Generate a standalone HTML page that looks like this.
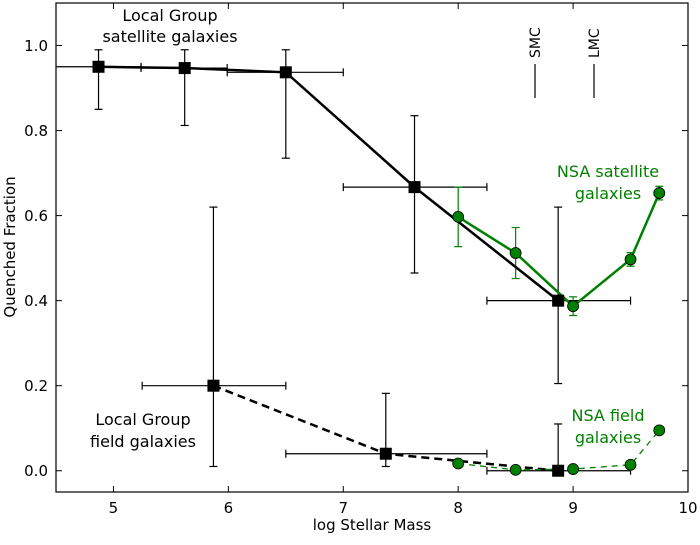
<!DOCTYPE html>
<html><head><meta charset="utf-8"><style>
body{margin:0;background:#fff}
svg text{font-family:"DejaVu Sans","Liberation Sans",sans-serif}
</style></head><body>
<svg id="c" width="700" height="540"></svg>
<script>
const lgSatX=[4.87,5.62,6.5,7.62,8.87];
const lgSatY=[0.95,0.947,0.937,0.667,0.40];
const lgSatLo=[0.85,0.812,0.735,0.465,0.205];
const lgSatHi=[0.99,0.99,0.99,0.835,0.62];
const lgSatXlo=[4.4,5.24,5.99,7.0,8.25];
const lgSatXhi=[5.24,5.99,7.0,8.25,9.5];
const lgFieldX=[5.87,7.37,8.87];
const lgFieldY=[0.2,0.04,0.0];
const lgFieldLo=[0.01,0.01,0.0];
const lgFieldHi=[0.62,0.182,0.11];
const lgFieldXlo=[5.25,6.5,8.25];
const lgFieldXhi=[6.5,8.25,9.5];
const nsaX=[8,8.5,9,9.5,9.75];
const nsaSatY=[0.597,0.512,0.387,0.497,0.653];
const nsaSatErr=[0.07,0.06,0.022,0.016,0.016];
const nsaFieldY=[0.017,0.002,0.004,0.014,0.095];
const xTicks=[5,6,7,8,9,10];
const yTicks=[0,0.2,0.4,0.6,0.8,1.0];
const L=56,R=688,T=3,B=492,X0=4.5,X1=10,Y0=-0.05,Y1=1.1;
const sx=v=>L+(v-X0)/(X1-X0)*(R-L);
const sy=v=>B-(v-Y0)/(Y1-Y0)*(B-T);
const svg=document.getElementById('c');
function el(t,a,txt){const e=document.createElementNS('http://www.w3.org/2000/svg',t);for(const k in a)e.setAttribute(k,a[k]);if(txt!==undefined)e.textContent=txt;svg.appendChild(e);return e;}
const clipD=el('clipPath',{id:'cp'});const cr=document.createElementNS('http://www.w3.org/2000/svg','rect');cr.setAttribute('x',L);cr.setAttribute('y',T);cr.setAttribute('width',R-L);cr.setAttribute('height',B-T);clipD.appendChild(cr);
const g=el('g',{'clip-path':'url(#cp)'});
function gel(t,a){const e=el(t,a);g.appendChild(e);return e;}
function errbar(x,y,lo,hi,xlo,xhi,col){
  const v=gel('line',{x1:sx(x),x2:sx(x),y1:sy(lo),y2:sy(hi),stroke:col,'stroke-width':1.2});
  
  
  [lo,hi].forEach(q=>gel('line',{x1:sx(x)-4,x2:sx(x)+4,y1:sy(q),y2:sy(q),stroke:col,'stroke-width':1.2}));
  if(xlo!==null){
    const h=gel('line',{x1:sx(xlo),x2:sx(xhi),y1:sy(y),y2:sy(y),stroke:col,'stroke-width':1.2});
    
    
    [xlo,xhi].forEach(q=>gel('line',{x1:sx(q),x2:sx(q),y1:sy(y)-4,y2:sy(y)+4,stroke:col,'stroke-width':1.2}));
  }
}
function poly(xs,ys,col,w,dash){
  return gel('polyline',{points:xs.map((x,i)=>sx(x)+','+sy(ys[i])).join(' '),fill:'none',stroke:col,'stroke-width':w,'stroke-dasharray':dash||'none'});
}
lgSatX.forEach((x,i)=>errbar(x,lgSatY[i],lgSatLo[i],lgSatHi[i],lgSatXlo[i],lgSatXhi[i],'#000'));
lgFieldX.forEach((x,i)=>errbar(x,lgFieldY[i],lgFieldLo[i],lgFieldHi[i],lgFieldXlo[i],lgFieldXhi[i],'#000'));
nsaX.forEach((x,i)=>errbar(x,nsaSatY[i],nsaSatY[i]-nsaSatErr[i],nsaSatY[i]+nsaSatErr[i],null,null,'#008000'));
let p=poly(lgSatX,lgSatY,'#000',2.5);


p=poly(lgFieldX,lgFieldY,'#000',2.5,'8,5');


p=poly(nsaX,nsaSatY,'#008000',2.5);


p=poly(nsaX,nsaFieldY,'#008000',1.3,'6,5');


lgSatX.forEach((x,i)=>{const r=gel('rect',{x:sx(x)-6,y:sy(lgSatY[i])-6,width:12,height:12,fill:'#000'});

});
lgFieldX.forEach((x,i)=>{const r=gel('rect',{x:sx(x)-6,y:sy(lgFieldY[i])-6,width:12,height:12,fill:'#000'});

});
nsaX.forEach((x,i)=>{const c=gel('circle',{cx:sx(x),cy:sy(nsaSatY[i]),r:5.5,fill:'#008000',stroke:'#000','stroke-width':0.8});

});
nsaX.forEach((x,i)=>{const c=gel('circle',{cx:sx(x),cy:sy(nsaFieldY[i]),r:5.5,fill:'#008000',stroke:'#000','stroke-width':0.8});

});
const fr=el('rect',{x:L,y:T,width:R-L,height:B-T,fill:'none',stroke:'#000','stroke-width':1.2});


xTicks.forEach(t=>{el('line',{x1:sx(t),x2:sx(t),y1:B,y2:B-6,stroke:'#000'});el('line',{x1:sx(t),x2:sx(t),y1:T,y2:T+6,stroke:'#000'});
const tx=el('text',{x:sx(t),y:B+21,'text-anchor':'middle','font-size':15},String(t));

});
yTicks.forEach(t=>{el('line',{x1:L,x2:L+6,y1:sy(t),y2:sy(t),stroke:'#000'});el('line',{x1:R,x2:R-6,y1:sy(t),y2:sy(t),stroke:'#000'});
const tx=el('text',{x:L-8,y:sy(t)+5.5,'text-anchor':'end','font-size':15},t.toFixed(1));

});
</script>
<svg width="700" height="540" style="position:absolute;left:0;top:0">
<text x="372" y="530" text-anchor="middle" font-size="15">log Stellar Mass</text>
<text transform="translate(15,247) rotate(-90)" text-anchor="middle" font-size="15">Quenched Fraction</text>
<text x="170" y="21" text-anchor="middle" font-size="16">Local Group</text>
<text x="170" y="42" text-anchor="middle" font-size="16">satellite galaxies</text>
<text x="143" y="425" text-anchor="middle" font-size="16">Local Group</text>
<text x="143" y="447" text-anchor="middle" font-size="16">field galaxies</text>
<text x="608" y="177" text-anchor="middle" font-size="16" fill="#008000">NSA satellite</text>
<text x="608" y="199" text-anchor="middle" font-size="16" fill="#008000">galaxies</text>
<text x="608" y="421" text-anchor="middle" font-size="16" fill="#008000">NSA field</text>
<text x="608" y="443" text-anchor="middle" font-size="16" fill="#008000">galaxies</text>
<text transform="translate(540,58) rotate(-90)" font-size="14">SMC</text>
<line x1="535" x2="535" y1="64" y2="98" stroke="#000" stroke-width="1.2"/>
<text transform="translate(599,58) rotate(-90)" font-size="14">LMC</text>
<line x1="594" x2="594" y1="64" y2="98" stroke="#000" stroke-width="1.2"/>
</svg>
</body></html>
